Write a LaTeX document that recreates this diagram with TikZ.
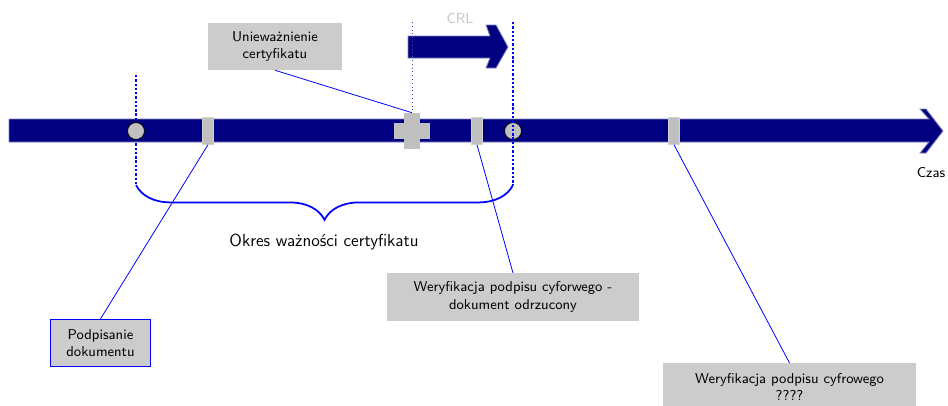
\documentclass[tikz,border=0pt]{standalone}
\usepackage{xcolor}
\usepackage{tikz}
\usetikzlibrary{positioning, decorations.pathreplacing, calc}
\definecolor{granat}{RGB}{0,0,128}
\definecolor{srebrny}{RGB}{192,192,192}
\definecolor{szary}{RGB}{204,204,204}
\tikzstyle{os} = [fill=granat, draw=granat!50!white, line width=0.5pt]
\tikzstyle{opis} = [rectangle, fill=szary, text centered, align=center, font=\sffamily\small, inner sep=2pt]
\tikzstyle{znacznik} = [rectangle, fill=srebrny, draw=srebrny!70!white, line width=0.4pt, minimum width=6.9pt, minimum height=17pt, inner sep=0pt]
\tikzstyle{punkt} = [circle, fill=srebrny, draw=black, line width=0.5pt, minimum size=10.7pt, inner sep=0pt]
\tikzstyle{linia} = [blue, line width=0.5pt]
\tikzstyle{granica} = [blue, line width=1.3pt, dash pattern=on 1.5pt off 1.2pt]
\tikzstyle{klamra} = [blue, line width=1.1pt]

\begin{document}
\begin{tikzpicture}[x=0.0222cm, y=-0.0222cm]
    \useasboundingbox (0,0) rectangle (948,405);

    % Os czasu
    \draw [os] (9,119) -- (929,119) -- (920,109) -- (926,109) -- (943,131)
        -- (926,153) -- (920,153) -- (929,142) -- (9,142) -- cycle;
    \node (czas) [font=\sffamily\small] at (931,173) {Czas};

    % Strzalka CRL
    \draw [os] (408,36) -- (490,36) -- (486,25) -- (496,25) -- (508,47)
        -- (496,68) -- (486,68) -- (490,58) -- (408,58) -- cycle;
    \node (crl) [font=\sffamily\small, text=gray!45] at (460,19) {CRL};

    % Granica lewa (przed punktem, ktory ja przykrywa)
    \coordinate (lgora) at (136,75);
    \coordinate (ldol) at (136,185);
    \draw [granica] (lgora) -- (ldol);

    % Zdarzenia na osi
    \node (start) [punkt] at (136,131) {};
    \node (podpis) [znacznik] at (208,131) {};
    \node (krzyz) [rectangle, fill=srebrny, minimum width=9.5pt, minimum height=22.7pt, inner sep=0pt] at (412,131) {};
    \node (krzyzpoz) [rectangle, fill=srebrny, minimum width=22.7pt, minimum height=10pt, inner sep=0pt] at (412,131) {};
    \node (wer1) [znacznik] at (477,131) {};
    \node (koniec) [punkt] at (513,131) {};
    \node (wer2) [znacznik] at (674,131) {};

    % Granica prawa i CRL
    \coordinate (pgora) at (513,22);
    \coordinate (pdol) at (513,185);
    \draw [granica] (pgora) -- (pdol);
    \coordinate (crlgora) at (412,22);
    \draw [blue!45!gray, line width=0.4pt, dotted] (crlgora) -- (krzyz.north);

    % Klamra okresu waznosci
    \draw [klamra, decorate, decoration={brace, mirror, amplitude=22pt}] (ldol) -- (pdol);
    \node (okres) [font=\sffamily\fontsize{11}{13}\selectfont] at (324,242) {Okres ważności certyfikatu};

    % Opisy
    \node (uniewaz) [opis, minimum width=84.4pt, minimum height=29.6pt] at (275,46.5) {Unieważnienie\\certyfikatu};
    \node (podpisanie) [opis, draw=blue, line width=0.5pt, minimum width=63.6pt, minimum height=30pt] at (100.5,343) {Podpisanie\\dokumentu};
    \node (odrzucony) [opis, minimum width=159pt, minimum height=30pt] at (513,297) {Weryfikacja podpisu cyforwego -\\dokument odrzucony};
    \node (nieznany) [opis, minimum width=159.5pt, minimum height=30pt] at (789.5,387) {Weryfikacja podpisu cyfrowego\\????};

    % Polaczenia
    \draw [linia] (uniewaz.south) -- (krzyz.north);
    \draw [linia] (podpisanie.north) -- (podpis.south);
    \draw [linia] (odrzucony.north) -- (wer1.south);
    \draw [linia] (nieznany.north) -- (wer2.south);

\end{tikzpicture}
\end{document}
